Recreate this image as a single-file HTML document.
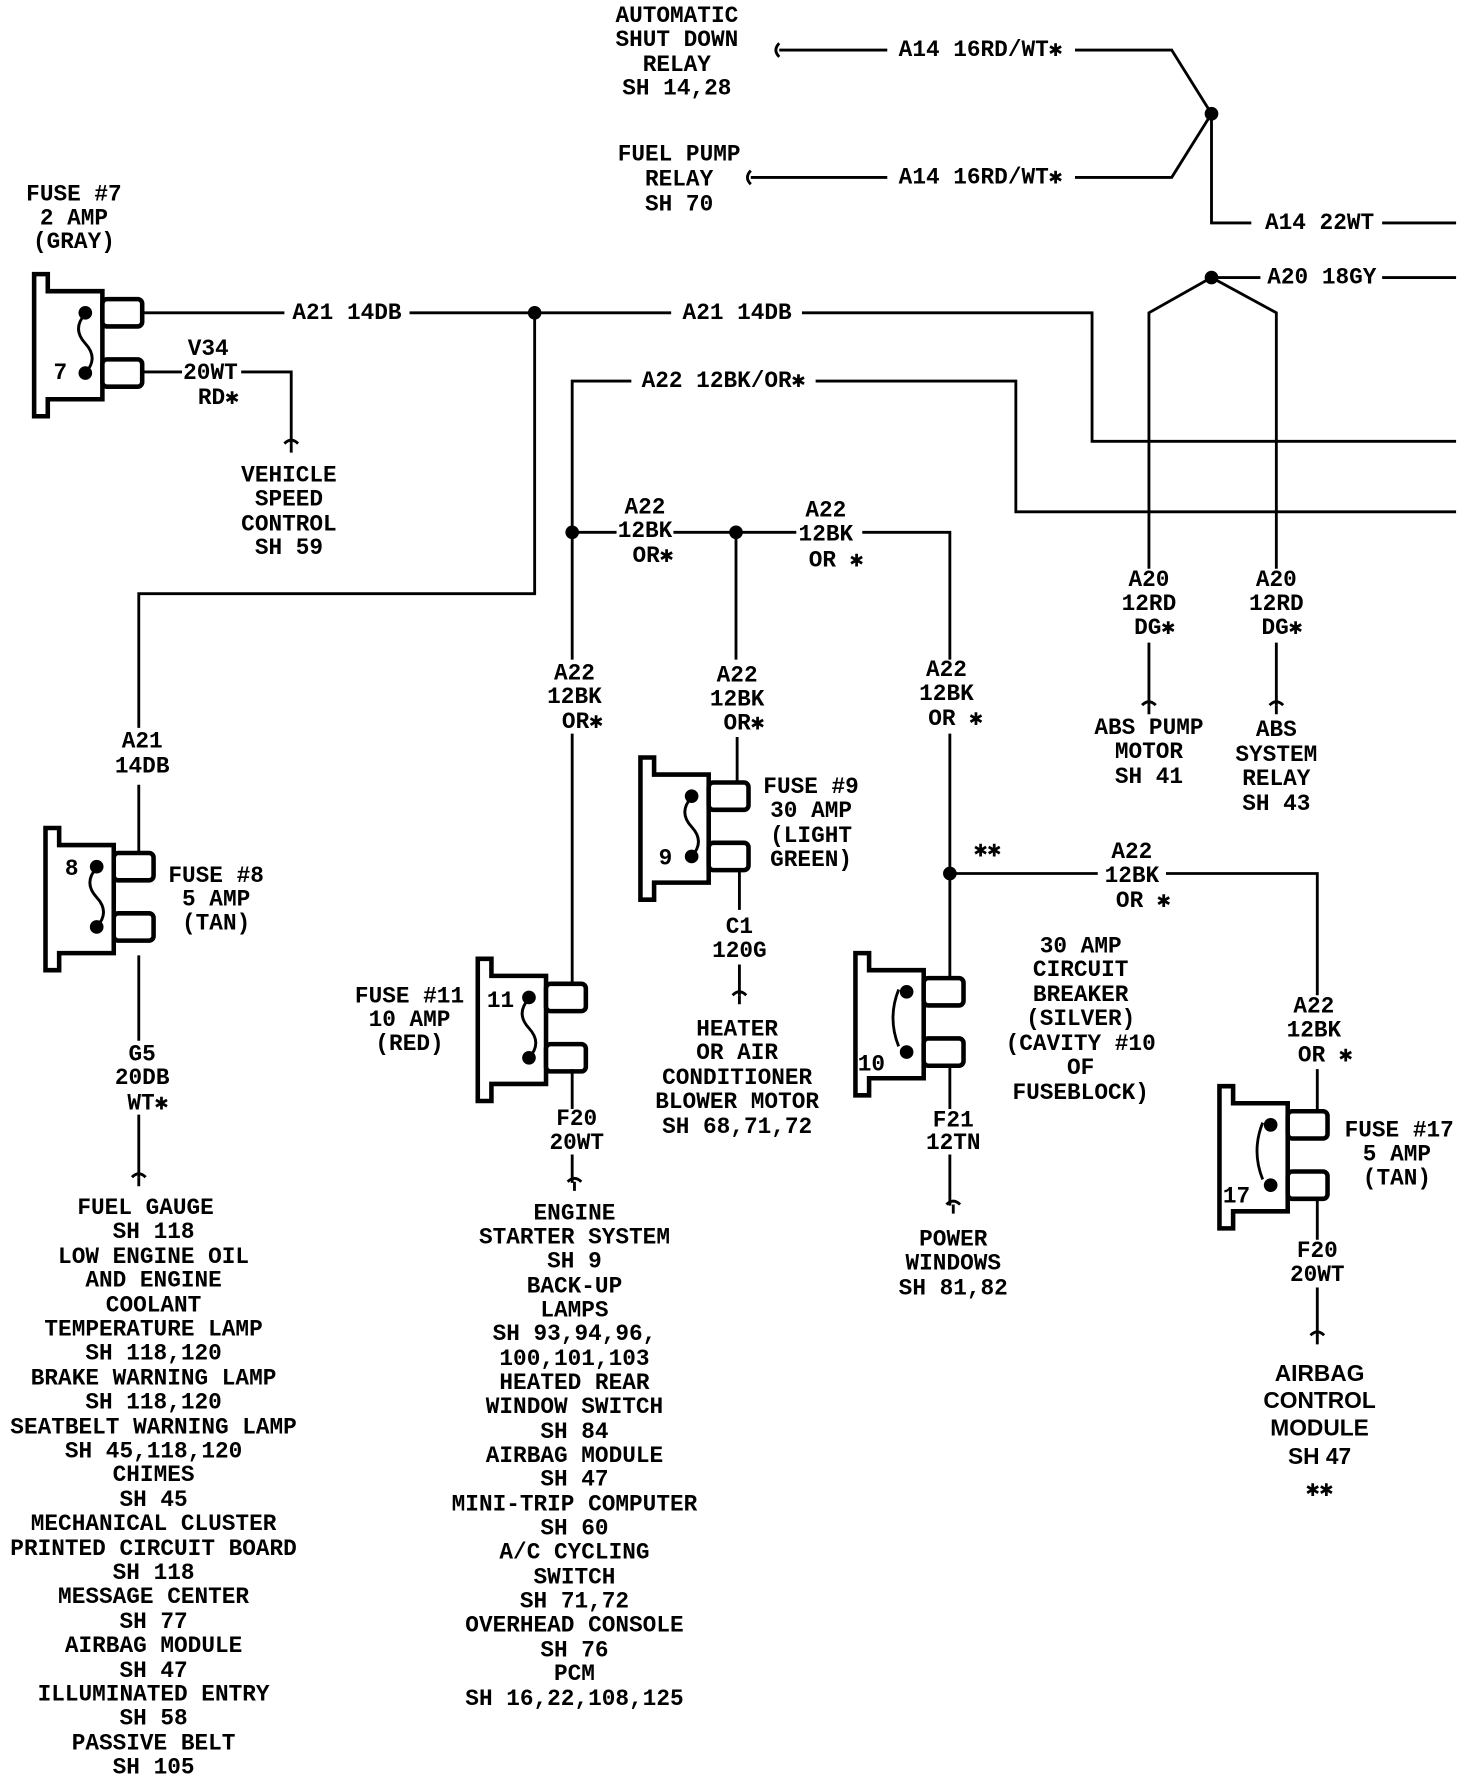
<!DOCTYPE html>
<html><head><meta charset="utf-8"><style>
html,body{margin:0;padding:0;background:#fff;}
svg{display:block;}
text{font-family:"Liberation Mono",monospace;font-weight:bold;font-size:20px;fill:#000;text-anchor:middle;dominant-baseline:central;}
.l{stroke:#000;stroke-width:2.5;fill:none;}
.f{stroke:#000;stroke-width:4;fill:#fff;}
</style></head><body>
<svg width="1472" height="1780" viewBox="0 0 1294 1565" preserveAspectRatio="none" xmlns="http://www.w3.org/2000/svg">
<defs>
<g id="fuse">
<path class="f" d="M0 0 H12 V15 H60 V110 H12 V125 H0 Z"/>
<rect class="f" x="60" y="22" width="35" height="24" rx="4"/>
<rect class="f" x="60" y="75" width="35" height="24" rx="4"/>
<circle cx="45" cy="34" r="6"/><circle cx="45" cy="87" r="6"/>
</g>
<path id="sq" class="l" d="M-6 -8 Q0 -14 6 -8 M0 -8 V0"/>
</defs>

<!-- top relays -->
<text x="595" y="14">AUTOMATIC</text><text x="595" y="35">SHUT DOWN</text><text x="595" y="57">RELAY</text><text x="595" y="78">SH 14,28</text>
<path class="l" d="M685 38 q-6 6 0 12 M685 44 H780 M945 44 H1030 L1065 100 L1030 156 H945 M780 156 H660 M660 150 q-6 6 0 12"/>
<text x="862" y="44">A14 16RD/WT✱</text>
<text x="597" y="136">FUEL PUMP</text><text x="597" y="158">RELAY</text><text x="597" y="180">SH 70</text>
<text x="862" y="156">A14 16RD/WT✱</text>
<circle cx="1065" cy="100" r="6"/>
<path class="l" d="M1065 100 V196 H1100 M1215 196 H1280"/>
<text x="1160" y="196">A14 22WT</text>
<circle cx="1065" cy="244" r="6"/>
<path class="l" d="M1065 244 H1108 M1215 244 H1280 M1065 244 L1010 275 V500 M1065 244 L1122 275 V500"/>
<text x="1162" y="244">A20 18GY</text>
<text x="1010" y="510">A20</text><text x="1010" y="531">12RD</text><text x="1015" y="552">DG✱</text>
<text x="1122" y="510">A20</text><text x="1122" y="531">12RD</text><text x="1127" y="552">DG✱</text>
<path class="l" d="M1010 565 V620 M1122 565 V620"/>
<use href="#sq" x="1010" y="628"/><use href="#sq" x="1122" y="628"/>
<text x="1010" y="640">ABS PUMP</text><text x="1010" y="661">MOTOR</text><text x="1010" y="683">SH 41</text>
<text x="1122" y="642">ABS</text><text x="1122" y="664">SYSTEM</text><text x="1122" y="685">RELAY</text><text x="1122" y="707">SH 43</text>

<!-- fuse 7 -->
<text x="65" y="171">FUSE #7</text><text x="65" y="192">2 AMP</text><text x="65" y="213">(GRAY)</text>
<use href="#fuse" x="30" y="241"/>
<path class="l" d="M75 276 q-12 13 0 26 q12 13 0 26"/>
<text x="53" y="328">7</text>
<path class="l" d="M125 275 H250 M360 275 H590 M705 275 H960 V388 H1280"/>
<text x="305" y="275">A21 14DB</text><text x="648" y="275">A21 14DB</text>
<circle cx="470" cy="275" r="6"/>
<path class="l" d="M125 327 H160 M212 327 H256 V390"/>
<text x="183" y="307">V34</text><text x="185" y="328">20WT</text><text x="192" y="350">RD✱</text>
<use href="#sq" x="256" y="398"/>
<text x="254" y="418">VEHICLE</text><text x="254" y="439">SPEED</text><text x="254" y="461">CONTROL</text><text x="254" y="482">SH 59</text>

<!-- A22 main -->
<path class="l" d="M503 580 V335 H555 M717 335 H893 V450 H1280"/>
<text x="636" y="335">A22 12BK/OR✱</text>
<path class="l" d="M470 275 V522 H122 V640 M122 690 V757"/>
<text x="125" y="652">A21</text><text x="125" y="674">14DB</text>

<!-- fuse 8 -->
<use href="#fuse" x="40" y="728"/>
<path class="l" d="M85 763 q-12 13 0 26 q12 13 0 26"/>
<text x="63" y="764">8</text>
<text x="190" y="770">FUSE #8</text><text x="190" y="791">5 AMP</text><text x="190" y="812">(TAN)</text>
<path class="l" d="M122 840 V915 M122 980 V1035"/>
<text x="125" y="927">G5</text><text x="125" y="948">20DB</text><text x="130" y="970">WT✱</text>
<use href="#sq" x="122" y="1043"/>
<g>
<text x="128" y="1062">FUEL GAUGE</text><text x="135" y="1083">SH 118</text><text x="135" y="1105">LOW ENGINE OIL</text><text x="135" y="1126">AND ENGINE</text><text x="135" y="1148">COOLANT</text><text x="135" y="1169">TEMPERATURE LAMP</text><text x="135" y="1190">SH 118,120</text><text x="135" y="1212">BRAKE WARNING LAMP</text><text x="135" y="1233">SH 118,120</text><text x="135" y="1255">SEATBELT WARNING LAMP</text><text x="135" y="1276">SH 45,118,120</text><text x="135" y="1297">CHIMES</text><text x="135" y="1319">SH 45</text><text x="135" y="1340">MECHANICAL CLUSTER</text><text x="135" y="1362">PRINTED CIRCUIT BOARD</text><text x="135" y="1383">SH 118</text><text x="135" y="1404">MESSAGE CENTER</text><text x="135" y="1426">SH 77</text><text x="135" y="1447">AIRBAG MODULE</text><text x="135" y="1469">SH 47</text><text x="135" y="1490">ILLUMINATED ENTRY</text><text x="135" y="1511">SH 58</text><text x="135" y="1533">PASSIVE BELT</text><text x="135" y="1554">SH 105</text>
</g>

<!-- A22 branches -->
<circle cx="503" cy="468" r="6"/><circle cx="647" cy="468" r="6"/>
<path class="l" d="M503 468 H542 M592 468 H700 M758 468 H835 V580 M647 468 V580"/>
<text x="567" y="446">A22</text><text x="567" y="467">12BK</text><text x="574" y="489">OR✱</text>
<text x="726" y="449">A22</text><text x="726" y="470">12BK</text><text x="735" y="493">OR ✱</text>
<text x="505" y="592">A22</text><text x="505" y="613">12BK</text><text x="512" y="635">OR✱</text>
<text x="648" y="594">A22</text><text x="648" y="615">12BK</text><text x="654" y="636">OR✱</text>
<text x="832" y="589">A22</text><text x="832" y="610">12BK</text><text x="840" y="632">OR ✱</text>
<path class="l" d="M503 645 V870 M648 648 V690 M835 645 V868"/>

<!-- fuse 9 -->
<use href="#fuse" x="563" y="666"/>
<path class="l" d="M608 701 q-12 13 0 26 q12 13 0 26"/>
<text x="585" y="755">9</text>
<text x="713" y="692">FUSE #9</text><text x="713" y="713">30 AMP</text><text x="713" y="735">(LIGHT</text><text x="713" y="756">GREEN)</text>
<path class="l" d="M650 765 V800 M650 848 V875"/>
<text x="650" y="815">C1</text><text x="650" y="836">120G</text>
<use href="#sq" x="650" y="883"/>
<text x="648" y="905">HEATER</text><text x="648" y="926">OR AIR</text><text x="648" y="948">CONDITIONER</text><text x="648" y="969">BLOWER MOTOR</text><text x="648" y="991">SH 68,71,72</text>

<!-- fuse 11 -->
<use href="#fuse" x="420" y="843"/>
<path class="l" d="M465 878 q-12 13 0 26 q12 13 0 26"/>
<text x="440" y="880">11</text>
<text x="360" y="876">FUSE #11</text><text x="360" y="897">10 AMP</text><text x="360" y="918">(RED)</text>
<path class="l" d="M503 940 V975 M503 1015 V1040"/>
<text x="507" y="984">F20</text><text x="507" y="1005">20WT</text>
<use href="#sq" x="505" y="1047"/>
<g>
<text x="505" y="1067">ENGINE</text><text x="505" y="1088">STARTER SYSTEM</text><text x="505" y="1109">SH 9</text><text x="505" y="1131">BACK-UP</text><text x="505" y="1152">LAMPS</text><text x="505" y="1173">SH 93,94,96,</text><text x="505" y="1195">100,101,103</text><text x="505" y="1216">HEATED REAR</text><text x="505" y="1237">WINDOW SWITCH</text><text x="505" y="1259">SH 84</text><text x="505" y="1280">AIRBAG MODULE</text><text x="505" y="1301">SH 47</text><text x="505" y="1323">MINI-TRIP COMPUTER</text><text x="505" y="1344">SH 60</text><text x="505" y="1365">A/C CYCLING</text><text x="505" y="1387">SWITCH</text><text x="505" y="1408">SH 71,72</text><text x="505" y="1429">OVERHEAD CONSOLE</text><text x="505" y="1451">SH 76</text><text x="505" y="1472">PCM</text><text x="505" y="1494">SH 16,22,108,125</text>
</g>

<!-- circuit breaker -->
<circle cx="835" cy="768" r="6"/>
<text x="868" y="748">✱✱</text>
<path class="l" d="M835 768 H965 M1025 768 H1158 V875 M1158 940 V990"/>
<text x="995" y="749">A22</text><text x="995" y="770">12BK</text><text x="1005" y="792">OR ✱</text>
<use href="#fuse" x="752" y="838"/>
<path class="l" d="M790 870 q-10 25 0 50"/>
<text x="766" y="936">10</text>
<text x="950" y="832">30 AMP</text><text x="950" y="853">CIRCUIT</text><text x="950" y="875">BREAKER</text><text x="950" y="896">(SILVER)</text><text x="950" y="918">(CAVITY #10</text><text x="950" y="939">OF</text><text x="950" y="961">FUSEBLOCK)</text>
<path class="l" d="M835 935 V975 M835 1015 V1060"/>
<text x="838" y="985">F21</text><text x="838" y="1005">12TN</text>
<use href="#sq" x="838" y="1067"/>
<text x="838" y="1090">POWER</text><text x="838" y="1111">WINDOWS</text><text x="838" y="1133">SH 81,82</text>

<!-- fuse 17 -->
<text x="1155" y="885">A22</text><text x="1155" y="906">12BK</text><text x="1165" y="928">OR ✱</text>
<use href="#fuse" x="1072" y="955"/>
<path class="l" d="M1110 987 q-10 25 0 50"/>
<text x="1087" y="1052">17</text>
<text x="1230" y="994">FUSE #17</text><text x="1228" y="1015">5 AMP</text><text x="1228" y="1036">(TAN)</text>
<path class="l" d="M1158 1055 V1090 M1158 1132 V1175"/>
<text x="1158" y="1100">F20</text><text x="1158" y="1121">20WT</text>
<use href="#sq" x="1158" y="1182"/>
<text x="1160" y="1207" style="font-family:'Liberation Sans',sans-serif">AIRBAG</text><text x="1160" y="1231" style="font-family:'Liberation Sans',sans-serif">CONTROL</text><text x="1160" y="1255" style="font-family:'Liberation Sans',sans-serif">MODULE</text><text x="1160" y="1280" style="font-family:'Liberation Sans',sans-serif">SH 47</text>
<text x="1160" y="1310">✱✱</text>
</svg>
</body></html>
